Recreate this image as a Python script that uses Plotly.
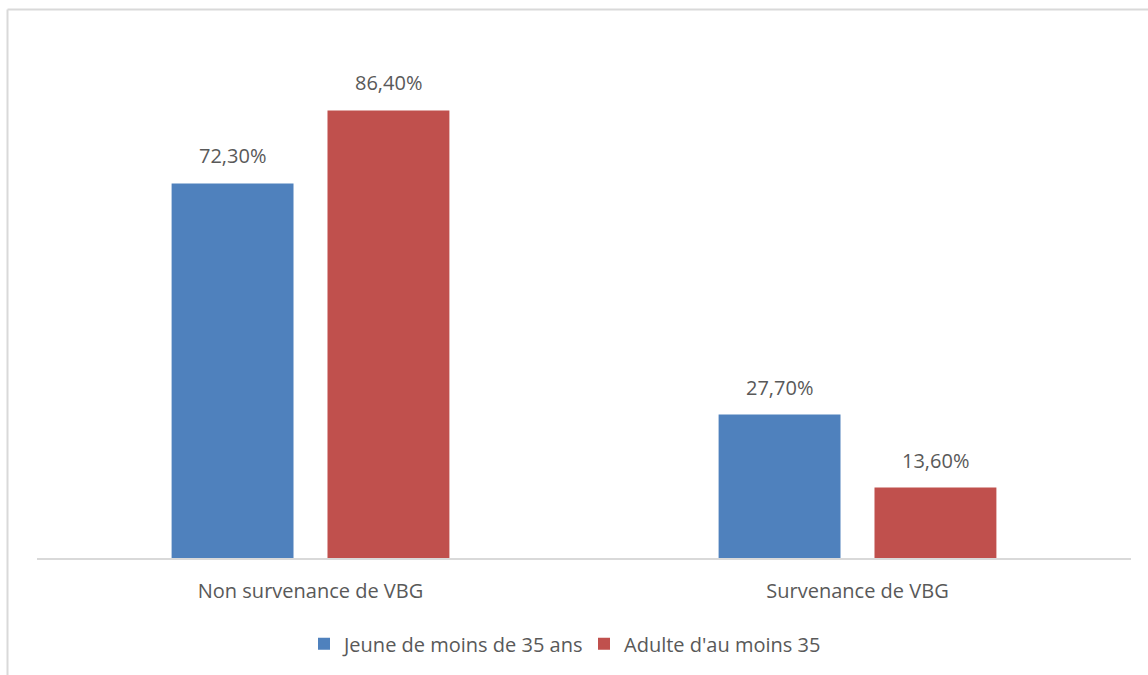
import plotly.graph_objects as go

categories = ["Non survenance de VBG", "Survenance de VBG"]
series_names = ["Jeune de moins de 35 ans", "Adulte d'au moins 35"]
jeune = [72.3, 27.7]
adulte = [86.4, 13.6]
colors = ["#4F81BD", "#C0504D"]

W, H = 1148, 675
ML, MR, MT, MB = 37, 17, 40, 117
FONT = "Open Sans"
FS = 20
TXT = "#595959"

fig = go.Figure()
for name, vals, col in zip(series_names, [jeune, adulte], colors):
    fig.add_trace(go.Bar(x=categories, y=vals, name=name, marker_color=col,
                         marker_line_width=0))

# value labels above each bar
offsets = [-0.143, 0.143]
for vals, off in zip([jeune, adulte], offsets):
    for i, v in enumerate(vals):
        fig.add_annotation(x=i + off, y=v, xref="x", yref="y",
                           text=f"{v:.2f}%".replace(".", ","),
                           showarrow=False, yanchor="bottom", yshift=12,
                           font=dict(family=FONT, size=FS, color=TXT))

# outer chart frame (top and left edges)
pw, ph = W - ML - MR, H - MT - MB
x_left = (7.5 - ML) / pw
y_top = 1 + (MT - 9.5) / ph
y_bot = -(MB + 5) / ph
fig.add_shape(type="line", xref="paper", yref="paper", x0=x_left, x1=1 + MR / pw + 0.01,
              y0=y_top, y1=y_top, line=dict(color="#D9D9D9", width=2))
fig.add_shape(type="line", xref="paper", yref="paper", x0=x_left, x1=x_left,
              y0=y_top, y1=y_bot, line=dict(color="#D9D9D9", width=2))

fig.update_layout(
    width=W, height=H,
    margin=dict(l=ML, r=MR, t=MT, b=MB, autoexpand=False),
    paper_bgcolor="white", plot_bgcolor="white",
    barmode="group", bargap=0.43, bargroupgap=0.218,
    font=dict(family=FONT, size=FS, color=TXT),
    showlegend=True,
    legend=dict(orientation="h", x=0.5, xanchor="center", y=-0.128, yanchor="top",
                font=dict(family=FONT, size=FS, color=TXT), itemwidth=30,
                entrywidth=235),
    xaxis=dict(showline=True, linecolor="#D9D9D9", linewidth=2, showgrid=False,
               ticks="", ticklabelstandoff=14, tickfont=dict(family=FONT, size=FS, color=TXT)),
    yaxis=dict(range=[0, 100], visible=False, showgrid=False, zeroline=False),
)

fig.write_html("out.html")
